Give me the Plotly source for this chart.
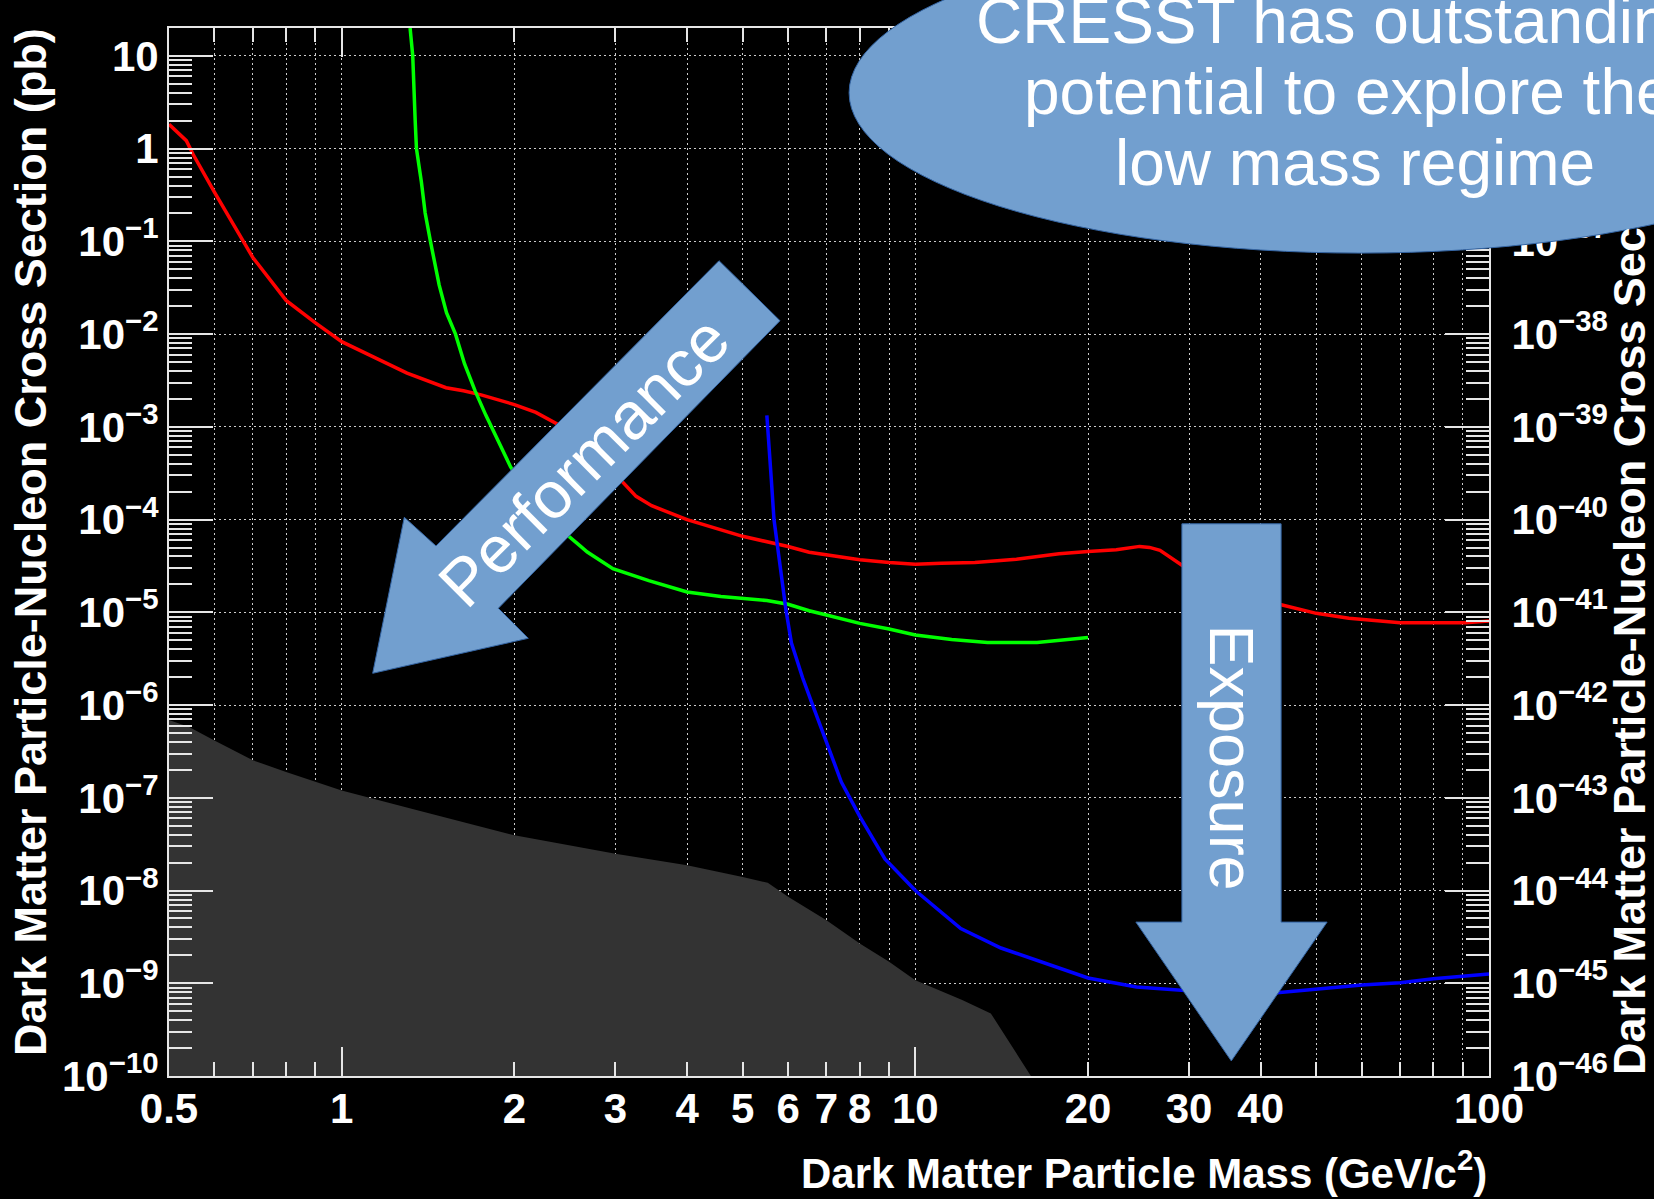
import numpy as np
import plotly.graph_objects as go

# ---------------------------------------------------------------------------
# Exclusion limits: WIMP mass (GeV/c^2) vs spin-independent cross section (pb)
# ---------------------------------------------------------------------------
RED_MASS = [0.5, 0.536, 0.551, 0.60, 0.70, 0.80, 0.90, 1.00,
            1.14, 1.30, 1.52, 1.63, 1.75, 2.0, 2.18, 2.37,
            2.6, 2.85, 3.08, 3.26, 3.47, 4.0, 5.0, 5.67,
            6.0, 6.53, 7.0, 8.0, 9.0, 10.0, 11.1, 12.7,
            15.0, 17.8, 20.0, 22.4, 24.6, 25.6, 26.7, 27.8,
            29.2, 33.0, 38.0, 43.6, 50.0, 57.0, 65.0, 70.0,
            91.0, 100.0]
RED_SIGMA = [1.83, 1.22, 0.865, 0.339, 0.067, 0.0231, 0.0132, 0.0083,
             0.00562, 0.0038, 0.00264, 0.00245, 0.00221, 0.00174, 0.00143, 0.00108,
             6.3e-4, 3.55e-4, 2.59e-4, 1.78e-4, 1.41e-4, 1.0e-4, 6.6e-5, 5.6e-5,
             5.13e-5, 4.44e-5, 4.17e-5, 3.68e-5, 3.44e-5, 3.3e-5, 3.39e-5, 3.44e-5,
             3.74e-5, 4.27e-5, 4.54e-5, 4.73e-5, 5.14e-5, 5.01e-5, 4.66e-5, 3.94e-5,
             3.2e-5, 2.09e-5, 1.45e-5, 1.2e-5, 9.75e-6, 8.61e-6, 7.94e-6, 7.73e-6,
             7.73e-6, 8.05e-6]

GREEN_MASS = [1.316, 1.33, 1.343, 1.35, 1.377, 1.398, 1.428, 1.479,
              1.523, 1.579, 1.637, 1.709, 1.784, 1.862, 1.97, 2.03,
              2.2, 2.35, 2.50, 2.61, 2.68, 2.97, 3.43, 4.0,
              4.58, 5.09, 5.51, 6.0, 6.53, 7.0, 8.0, 9.0,
              10.0, 11.57, 13.36, 16.3, 18.8, 20.0]
GREEN_SIGMA = [20.0, 10.0, 2.03, 1.0, 0.436, 0.202, 0.1, 0.0337,
               0.017, 0.01, 4.8e-3, 2.43e-3, 1.33e-3, 7.6e-4, 3.7e-4, 2.8e-4,
               1.4e-4, 8.9e-5, 6.55e-5, 5.15e-5, 4.47e-5, 2.95e-5, 2.2e-5, 1.66e-5,
               1.48e-5, 1.41e-5, 1.34e-5, 1.22e-5, 1.04e-5, 9.35e-6, 7.6e-6, 6.6e-6,
               5.7e-6, 5.1e-6, 4.74e-6, 4.74e-6, 5.13e-6, 5.35e-6]

BLUE_MASS = [5.51, 5.55, 5.61, 5.67, 5.77, 5.88, 5.95, 6.08,
             6.36, 6.61, 7.0, 7.43, 8.0, 8.85, 10.0, 12.0,
             14.1, 17.1, 20.0, 24.3, 30.0, 34.4, 41.8, 50.0,
             60.0, 70.0, 80.0, 100.0]
BLUE_SIGMA = [1.33e-3, 6.17e-4, 2.69e-4, 1.0e-4, 4.37e-5, 1.6e-5, 1.05e-5, 4.68e-6,
              1.97e-6, 1.03e-6, 3.89e-7, 1.48e-7, 6.3e-8, 2.19e-8, 1.0e-8, 3.89e-9,
              2.4e-9, 1.58e-9, 1.14e-9, 9.1e-10, 8.2e-10, 7.8e-10, 7.8e-10, 8.6e-10,
              9.55e-10, 1.01e-9, 1.12e-9, 1.26e-9]

# Shaded region (upper boundary)
GRAY_MASS = [0.5, 0.542, 0.6, 0.7, 0.8, 0.9, 1.0, 1.36, 2.0, 3.0, 4.0,
             5.0, 5.53, 6.0, 7.0, 8.0, 9.0, 10.0, 12.07, 13.54, 15.9]
GRAY_SIGMA = [6.9e-7, 5.8e-7, 4.16e-7, 2.54e-7, 1.9e-7, 1.48e-7, 1.2e-7, 7.3e-8, 3.94e-8, 2.5e-8, 1.87e-8,
              1.4e-8, 1.21e-8, 8.55e-9, 4.79e-9, 2.69e-9, 1.71e-9, 1.08e-9, 6.6e-10, 4.73e-10, 1e-10]

# Axis ranges and tick labels
MASS_MIN, MASS_MAX = 0.5, 100.0
SIGMA_MIN, SIGMA_MAX = 1e-10, 20.0
PB_TO_CM2 = 1e-36

X_LABEL_VALS = [0.5, 1, 2, 3, 4, 5, 6, 7, 8, 10, 20, 30, 40, 100]
X_LABEL_TEXT = ["0.5", "1", "2", "3", "4", "5", "6", "7", "8", "10", "20", "30", "40", "100"]
X_MINOR_VALS = [0.6, 0.7, 0.8, 0.9, 9, 50, 60, 70, 80, 90]
X_LONG_VALS = [1, 10]

Y_EXPONENTS = list(range(-10, 2))
# right-hand scale in cm^2 (upper decades sit under the call-out ellipse)
Y2_EXPONENTS = list(range(-46, -36))


def pow_label(e):
    if e == 0:
        return "1"
    if e == 1:
        return "10"
    return "10<sup>\u2212%d</sup>" % (-e)


# ---------------------------------------------------------------------------
# Page geometry (pixels)
# ---------------------------------------------------------------------------
FIG_W, FIG_H = 1654, 1199
PLOT_L, PLOT_T, PLOT_R, PLOT_B = 169, 28, 1489, 1076
PLOT_W, PLOT_H = PLOT_R - PLOT_L, PLOT_B - PLOT_T


def px_x(px):
    return (px - PLOT_L) / PLOT_W


def px_y(py):
    return (PLOT_B - py) / PLOT_H


def poly_path(points):
    return "M " + " L ".join("%.5f,%.5f" % (px_x(x), px_y(y)) for x, y in points) + " Z"


FONT = "Liberation Sans, Arial, Helvetica, sans-serif"
AXIS_COL = "#e6e6e6"
GRID_COL = "#cccccc"
GRID_DASH = "2px,3px"
ARROW_FILL = "#729fcf"
ARROW_LINE = "#3465a4"

fig = go.Figure()

# shaded region, closed along the lower edge of the frame
fig.add_trace(go.Scatter(
    x=GRAY_MASS + [GRAY_MASS[0]],
    y=GRAY_SIGMA + [SIGMA_MIN],
    mode="lines", fill="toself", fillcolor="#333333",
    line=dict(color="#333333", width=0), hoverinfo="skip", showlegend=False))

for xs, ys, col in [(RED_MASS, RED_SIGMA, "#ff0000"),
                    (GREEN_MASS, GREEN_SIGMA, "#00ff00"),
                    (BLUE_MASS, BLUE_SIGMA, "#0000ff")]:
    fig.add_trace(go.Scatter(x=xs, y=ys, mode="lines",
                             line=dict(color=col, width=3.5),
                             hoverinfo="skip", showlegend=False))

# empty traces so the secondary axes (long decade ticks, cm^2 scale) get drawn
fig.add_trace(go.Scatter(x=[], y=[], xaxis="x3", yaxis="y", mode="lines",
                         hoverinfo="skip", showlegend=False))
fig.add_trace(go.Scatter(x=[], y=[], xaxis="x", yaxis="y2", mode="lines",
                         hoverinfo="skip", showlegend=False))

tick_font = dict(family=FONT, size=42, color="white", weight="bold")

y_minor = [k * 10.0 ** e for e in range(-10, 2) for k in range(2, 10) if k * 10.0 ** e <= SIGMA_MAX]
y2_minor = [k * 10.0 ** e for e in range(-46, -34) for k in range(2, 10) if k * 10.0 ** e <= SIGMA_MAX * PB_TO_CM2]

fig.update_layout(
    width=FIG_W, height=FIG_H,
    margin=dict(l=PLOT_L, r=FIG_W - PLOT_R, t=PLOT_T, b=FIG_H - PLOT_B, pad=0),
    paper_bgcolor="black", plot_bgcolor="black",
    showlegend=False,
    xaxis=dict(
        type="log", range=[np.log10(MASS_MIN), np.log10(MASS_MAX)],
        tickmode="array", tickvals=X_LABEL_VALS, ticktext=X_LABEL_TEXT,
        ticks="inside", ticklen=14, tickwidth=1.5, tickcolor=AXIS_COL,
        showline=True, linecolor=AXIS_COL, linewidth=2, mirror="ticks",
        showgrid=True, gridcolor=GRID_COL, gridwidth=1, griddash=GRID_DASH,
        zeroline=False, tickfont=tick_font, anchor="y", ticklabelstandoff=-5,
        minor=dict(tickmode="array", tickvals=X_MINOR_VALS, ticks="inside",
                   ticklen=14, tickwidth=1.5, tickcolor=AXIS_COL,
                   showgrid=True, gridcolor=GRID_COL, gridwidth=1, griddash=GRID_DASH),
    ),
    xaxis3=dict(
        type="log", range=[np.log10(MASS_MIN), np.log10(MASS_MAX)],
        overlaying="x", anchor="y", side="bottom",
        tickmode="array", tickvals=X_LONG_VALS,
        showticklabels=False, ticks="inside", ticklen=29, tickwidth=1.5,
        tickcolor=AXIS_COL, mirror="ticks", showline=False,
        showgrid=False, zeroline=False,
    ),
    yaxis=dict(
        type="log", range=[np.log10(SIGMA_MIN), np.log10(SIGMA_MAX)],
        tickmode="array", tickvals=[10.0 ** e for e in Y_EXPONENTS],
        ticktext=[pow_label(e) for e in Y_EXPONENTS],
        ticks="inside", ticklen=44, tickwidth=1.5, tickcolor=AXIS_COL,
        showline=True, linecolor=AXIS_COL, linewidth=2, mirror=False,
        showgrid=True, gridcolor=GRID_COL, gridwidth=1, griddash=GRID_DASH,
        zeroline=False, tickfont=tick_font, anchor="x", side="left",
        minor=dict(tickmode="array", tickvals=y_minor, ticks="inside",
                   ticklen=23, tickwidth=1.5, tickcolor=AXIS_COL, showgrid=False),
    ),
    yaxis2=dict(
        type="log",
        range=[np.log10(SIGMA_MIN * PB_TO_CM2), np.log10(SIGMA_MAX * PB_TO_CM2)],
        overlaying="y", anchor="x", side="right",
        tickmode="array", tickvals=[10.0 ** e for e in Y2_EXPONENTS],
        ticktext=[pow_label(e) for e in Y2_EXPONENTS],
        ticks="inside", ticklen=44, tickwidth=1.5, tickcolor=AXIS_COL,
        showline=True, linecolor=AXIS_COL, linewidth=2, ticklabelstandoff=12,
        showgrid=False, zeroline=False, tickfont=tick_font,
        minor=dict(tickmode="array", tickvals=y2_minor, ticks="inside",
                   ticklen=23, tickwidth=1.5, tickcolor=AXIS_COL, showgrid=False),
    ),
)

# Call-out shapes: two arrows and the ellipse
perf_arrow = [(372.7, 673.3), (404.3, 517.3), (436.0, 546.0), (719.0, 260.7),
              (780.0, 320.7), (498.3, 608.3), (528.3, 638.3)]
expo_arrow = [(1181.9, 523.8), (1281.1, 523.8), (1281.1, 922.1), (1327.1, 922.1),
              (1231.3, 1060.9), (1135.9, 922.1), (1181.9, 922.1)]
ell_cx, ell_cy, ell_a, ell_b = 1360.7, 92.8, 511.6, 160.3

shapes = [
    dict(type="path", xref="paper", yref="paper", path=poly_path(perf_arrow),
         fillcolor=ARROW_FILL, line=dict(color=ARROW_LINE, width=1), layer="above"),
    dict(type="path", xref="paper", yref="paper", path=poly_path(expo_arrow),
         fillcolor=ARROW_FILL, line=dict(color=ARROW_LINE, width=1), layer="above"),
    dict(type="circle", xref="paper", yref="paper",
         x0=px_x(ell_cx - ell_a), x1=px_x(ell_cx + ell_a),
         y0=px_y(ell_cy + ell_b), y1=px_y(ell_cy - ell_b),
         fillcolor=ARROW_FILL, line=dict(color=ARROW_LINE, width=1), layer="above"),
]
fig.update_layout(shapes=shapes)

x_title_font = dict(family=FONT, size=42, color="white", weight="bold")
y_title_font = dict(family=FONT, size=45, color="white", weight="bold")
callout_font = dict(family=FONT, size=64, color="white")

annotations = [
    # axis titles
    dict(text="Dark Matter Particle Mass (GeV/c<sup>2</sup>)", x=px_x(PLOT_R), y=px_y(1170),
         xanchor="right", yanchor="middle", font=x_title_font),
    dict(text="Dark Matter Particle-Nucleon Cross Section (pb)", x=px_x(31), y=px_y(26),
         xanchor="center", yanchor="top", textangle=-90, font=y_title_font),
    dict(text="Dark Matter Particle-Nucleon Cross Sec", x=px_x(1629), y=px_y(1077),
         xanchor="center", yanchor="bottom", textangle=-90, font=y_title_font),
    # ellipse text
    dict(text="CRESST has outstanding", x=px_x(1340), y=px_y(21),
         xanchor="center", yanchor="middle", font=callout_font),
    dict(text="potential to explore the", x=px_x(1348), y=px_y(92),
         xanchor="center", yanchor="middle", font=callout_font),
    dict(text="low mass regime", x=px_x(1355), y=px_y(163),
         xanchor="center", yanchor="middle", font=callout_font),
    # arrow labels
    dict(text="Performance", x=px_x(584), y=px_y(461), xanchor="center", yanchor="middle",
         textangle=-45, font=dict(family=FONT, size=66, color="white")),
    dict(text="Exposure", x=px_x(1231.5), y=px_y(757), xanchor="center", yanchor="middle",
         textangle=90, font=dict(family=FONT, size=63, color="white")),
]
for a in annotations:
    a.update(xref="paper", yref="paper", showarrow=False)
fig.update_layout(annotations=annotations)

fig.write_html("out.html")
